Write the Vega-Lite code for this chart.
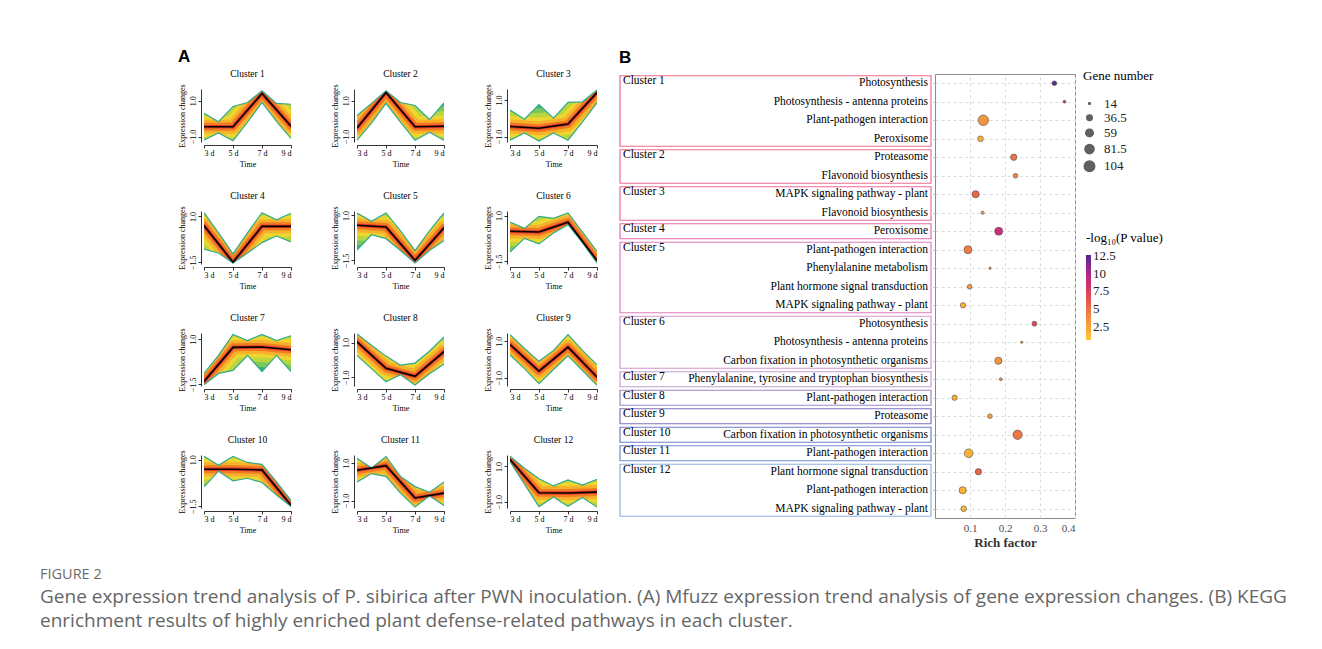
{
"$schema":"https://vega.github.io/schema/vega-lite/v6.json",
"background":"white",
"padding":{"left":40,"top":48,"right":5,"bottom":5},
"config":{
 "font":"Liberation Serif",
 "view":{"stroke":null},
 "title":{"font":"Liberation Serif","fontSize":9.5,"fontWeight":"normal","color":"#000","offset":5},
 "axis":{"labelFont":"Liberation Serif","titleFont":"Liberation Serif","labelFontSize":8,"titleFontSize":8,"titleFontWeight":"normal","labelColor":"#000","titleColor":"#000","domainColor":"#000","tickColor":"#000","tickSize":3,"grid":false,"labelPadding":1,"titlePadding":3,"domainWidth":0.8,"tickWidth":0.8,"offset":3},
 "axisY":{"labelAngle":-90,"labelAlign":"center","labelBaseline":"bottom"},
 "axisX":{"labelAngle":0}
},
"datasets":{
 "trend":[
  {"cl":1,"t":3,"lo":-1.18,"hi":0.30,"c":-0.45},{"cl":1,"t":4,"lo":-0.80,"hi":-0.17},{"cl":1,"t":5,"lo":-1.23,"hi":0.68,"c":-0.45},{"cl":1,"t":6,"lo":-0.20,"hi":0.90},{"cl":1,"t":7,"lo":0.90,"hi":1.55,"c":1.40},{"cl":1,"t":8,"lo":-0.15,"hi":0.85},{"cl":1,"t":9,"lo":-1.10,"hi":0.80,"c":-0.42},
  {"cl":2,"t":3,"lo":-1.20,"hi":0.17,"c":-0.52},{"cl":2,"t":4,"lo":-0.25,"hi":0.85},{"cl":2,"t":5,"lo":0.85,"hi":1.55,"c":1.45},{"cl":2,"t":6,"lo":-0.20,"hi":0.90},{"cl":2,"t":7,"lo":-1.20,"hi":0.73,"c":-0.45},{"cl":2,"t":8,"lo":-0.75,"hi":-0.05},{"cl":2,"t":9,"lo":-1.20,"hi":0.87,"c":-0.42},
  {"cl":3,"t":3,"lo":-1.20,"hi":0.45,"c":-0.45},{"cl":3,"t":4,"lo":-0.80,"hi":-0.05},{"cl":3,"t":5,"lo":-1.25,"hi":0.75,"c":-0.55},{"cl":3,"t":6,"lo":-0.80,"hi":0.00},{"cl":3,"t":7,"lo":-1.20,"hi":0.87,"c":-0.32},{"cl":3,"t":8,"lo":-0.20,"hi":0.90},{"cl":3,"t":9,"lo":0.85,"hi":1.55,"c":1.40},
  {"cl":4,"t":3,"lo":-0.79,"hi":1.21,"c":0.50},{"cl":4,"t":4,"lo":-1.00,"hi":0.10},{"cl":4,"t":5,"lo":-1.54,"hi":-1.05,"c":-1.50},{"cl":4,"t":6,"lo":-1.00,"hi":0.10},{"cl":4,"t":7,"lo":-0.43,"hi":1.21,"c":0.46},{"cl":4,"t":8,"lo":-0.07,"hi":0.82},{"cl":4,"t":9,"lo":-0.39,"hi":1.18,"c":0.46},
  {"cl":5,"t":3,"lo":-0.93,"hi":1.14,"c":0.46},{"cl":5,"t":4,"lo":-0.07,"hi":0.68},{"cl":5,"t":5,"lo":-0.29,"hi":1.14,"c":0.36},{"cl":5,"t":6,"lo":-0.95,"hi":0.15},{"cl":5,"t":7,"lo":-1.64,"hi":-0.96,"c":-1.50},{"cl":5,"t":8,"lo":-0.95,"hi":0.15},{"cl":5,"t":9,"lo":-0.39,"hi":1.14,"c":0.32},
  {"cl":6,"t":3,"lo":-1.00,"hi":0.64,"c":0.14},{"cl":6,"t":4,"lo":-0.25,"hi":0.30},{"cl":6,"t":5,"lo":-0.55,"hi":0.96,"c":0.10},{"cl":6,"t":6,"lo":0.05,"hi":0.85},{"cl":6,"t":7,"lo":0.50,"hi":1.14,"c":0.64},{"cl":6,"t":8,"lo":-0.50,"hi":0.10},{"cl":6,"t":9,"lo":-1.59,"hi":-0.96,"c":-1.46},
  {"cl":7,"t":3,"lo":-1.53,"hi":-0.90,"c":-1.35},{"cl":7,"t":4,"lo":-0.90,"hi":0.10},{"cl":7,"t":5,"lo":-0.73,"hi":1.27,"c":0.55},{"cl":7,"t":6,"lo":0.10,"hi":0.93},{"cl":7,"t":7,"lo":-0.80,"hi":1.27,"c":0.57},{"cl":7,"t":8,"lo":0.10,"hi":0.93},{"cl":7,"t":9,"lo":-0.80,"hi":1.20,"c":0.42},
  {"cl":8,"t":3,"lo":0.26,"hi":1.50,"c":1.04},{"cl":8,"t":4,"lo":-0.50,"hi":0.85},{"cl":8,"t":5,"lo":-1.26,"hi":0.22,"c":-0.48},{"cl":8,"t":6,"lo":-0.85,"hi":-0.30},{"cl":8,"t":7,"lo":-1.44,"hi":-0.18,"c":-0.94},{"cl":8,"t":8,"lo":-0.80,"hi":0.50},{"cl":8,"t":9,"lo":-0.24,"hi":1.33,"c":0.48},
  {"cl":9,"t":3,"lo":0.25,"hi":1.36,"c":0.82},{"cl":9,"t":4,"lo":-0.50,"hi":0.60},{"cl":9,"t":5,"lo":-1.32,"hi":-0.10,"c":-0.64},{"cl":9,"t":6,"lo":-0.55,"hi":0.50},{"cl":9,"t":7,"lo":0.20,"hi":1.36,"c":0.68},{"cl":9,"t":8,"lo":-0.60,"hi":0.50},{"cl":9,"t":9,"lo":-1.41,"hi":-0.29,"c":-0.96},
  {"cl":10,"t":3,"lo":-0.46,"hi":1.18,"c":0.48},{"cl":10,"t":4,"lo":0.38,"hi":0.70},{"cl":10,"t":5,"lo":-0.14,"hi":1.18,"c":0.48},{"cl":10,"t":6,"lo":0.00,"hi":0.85},{"cl":10,"t":7,"lo":-0.23,"hi":0.75,"c":0.45},{"cl":10,"t":8,"lo":-0.90,"hi":-0.20},{"cl":10,"t":9,"lo":-1.52,"hi":-1.20,"c":-1.45},
  {"cl":11,"t":3,"lo":0.00,"hi":1.28,"c":0.63},{"cl":11,"t":4,"lo":0.45,"hi":0.75},{"cl":11,"t":5,"lo":0.30,"hi":1.37,"c":0.88},{"cl":11,"t":6,"lo":-0.60,"hi":0.30},{"cl":11,"t":7,"lo":-1.35,"hi":-0.25,"c":-0.86},{"cl":11,"t":8,"lo":-0.75,"hi":-0.55},{"cl":11,"t":9,"lo":-1.26,"hi":0.00,"c":-0.60},
  {"cl":12,"t":3,"lo":1.27,"hi":1.58,"c":1.40},{"cl":12,"t":4,"lo":0.00,"hi":0.90},{"cl":12,"t":5,"lo":-1.27,"hi":0.31,"c":-0.49},{"cl":12,"t":6,"lo":-0.73,"hi":-0.10},{"cl":12,"t":7,"lo":-1.25,"hi":0.24,"c":-0.50},{"cl":12,"t":8,"lo":-0.75,"hi":-0.05},{"cl":12,"t":9,"lo":-1.30,"hi":0.27,"c":-0.45}
 ],
 "kegg":[
  {"row":1,"cluster":"Cluster 1","pathway":"Photosynthesis","rich":0.341,"genes":30,"logp":12.4},
  {"row":2,"cluster":"Cluster 1","pathway":"Photosynthesis - antenna proteins","rich":0.370,"genes":18,"logp":8.3},
  {"row":3,"cluster":"Cluster 1","pathway":"Plant-pathogen interaction","rich":0.138,"genes":104,"logp":3.5},
  {"row":4,"cluster":"Cluster 1","pathway":"Peroxisome","rich":0.130,"genes":38,"logp":2.0},
  {"row":5,"cluster":"Cluster 2","pathway":"Proteasome","rich":0.225,"genes":45,"logp":5.0},
  {"row":6,"cluster":"Cluster 2","pathway":"Flavonoid biosynthesis","rich":0.230,"genes":30,"logp":4.0},
  {"row":7,"cluster":"Cluster 3","pathway":"MAPK signaling pathway - plant","rich":0.116,"genes":55,"logp":5.5},
  {"row":8,"cluster":"Cluster 3","pathway":"Flavonoid biosynthesis","rich":0.136,"genes":20,"logp":3.0},
  {"row":9,"cluster":"Cluster 4","pathway":"Peroxisome","rich":0.182,"genes":65,"logp":8.8},
  {"row":10,"cluster":"Cluster 5","pathway":"Plant-pathogen interaction","rich":0.094,"genes":65,"logp":4.6},
  {"row":11,"cluster":"Cluster 5","pathway":"Phenylalanine metabolism","rich":0.157,"genes":16,"logp":4.0},
  {"row":12,"cluster":"Cluster 5","pathway":"Plant hormone signal transduction","rich":0.099,"genes":30,"logp":3.0},
  {"row":13,"cluster":"Cluster 5","pathway":"MAPK signaling pathway - plant","rich":0.080,"genes":35,"logp":1.6},
  {"row":14,"cluster":"Cluster 6","pathway":"Photosynthesis","rich":0.284,"genes":32,"logp":7.0},
  {"row":15,"cluster":"Cluster 6","pathway":"Photosynthesis - antenna proteins","rich":0.248,"genes":16,"logp":3.0},
  {"row":16,"cluster":"Cluster 6","pathway":"Carbon fixation in photosynthetic organisms","rich":0.181,"genes":55,"logp":3.6},
  {"row":17,"cluster":"Cluster 7","pathway":"Phenylalanine, tyrosine and tryptophan biosynthesis","rich":0.188,"genes":18,"logp":3.5},
  {"row":18,"cluster":"Cluster 8","pathway":"Plant-pathogen interaction","rich":0.056,"genes":35,"logp":2.0},
  {"row":19,"cluster":"Cluster 9","pathway":"Proteasome","rich":0.157,"genes":30,"logp":2.8},
  {"row":20,"cluster":"Cluster 10","pathway":"Carbon fixation in photosynthetic organisms","rich":0.236,"genes":85,"logp":4.8},
  {"row":21,"cluster":"Cluster 11","pathway":"Plant-pathogen interaction","rich":0.096,"genes":75,"logp":2.0},
  {"row":22,"cluster":"Cluster 12","pathway":"Plant hormone signal transduction","rich":0.124,"genes":45,"logp":5.6},
  {"row":23,"cluster":"Cluster 12","pathway":"Plant-pathogen interaction","rich":0.079,"genes":55,"logp":1.8},
  {"row":24,"cluster":"Cluster 12","pathway":"MAPK signaling pathway - plant","rich":0.082,"genes":38,"logp":1.6}
 ],
 "boxes":[
  {"cluster":"Cluster 1","first":1,"last":4},{"cluster":"Cluster 2","first":5,"last":6},{"cluster":"Cluster 3","first":7,"last":8},{"cluster":"Cluster 4","first":9,"last":9},{"cluster":"Cluster 5","first":10,"last":13},{"cluster":"Cluster 6","first":14,"last":16},{"cluster":"Cluster 7","first":17,"last":17},{"cluster":"Cluster 8","first":18,"last":18},{"cluster":"Cluster 9","first":19,"last":19},{"cluster":"Cluster 10","first":20,"last":20},{"cluster":"Cluster 11","first":21,"last":21},{"cluster":"Cluster 12","first":22,"last":24}
 ]
},
"title":{"text":"FIGURE 2","subtitle":["Gene expression trend analysis of P. sibirica after PWN inoculation. (A) Mfuzz expression trend analysis of gene expression changes. (B) KEGG","enrichment results of highly enriched plant defense-related pathways in each cluster."],"orient":"bottom","anchor":"start","dx":-138,"offset":18,"font":"Open Sans","fontSize":14.5,"fontWeight":"normal","color":"#6b6b6b","subtitleFont":"Open Sans","subtitleFontSize":19,"subtitleColor":"#666666","subtitleLineHeight":23.5,"subtitlePadding":6},
"spacing":21,
"resolve":{"legend":{"color":"independent","size":"independent"}},
"hconcat":[
 {"title":{"text":"A","anchor":"start","font":"Liberation Sans","fontSize":17,"fontWeight":"bold","offset":3,"color":"#000"},
  "spacing":-6,
  "vconcat":[
  {"width":1,"height":1,"data":{"values":[]},"mark":{"type":"point","opacity":0}},
  {"columns":3,
  "spacing":{"row":23,"column":38},
  "concat":[
   {"title":"Cluster 1","width":87,"height":53,"data":{"name":"trend"},"transform":[{"filter":"datum.cl==1"}],
    "encoding":{"x":{"field":"t","type":"quantitative","scale":{"domain":[3,9],"nice":false},"axis":{"values":[3,5,7,9],"labelExpr":"datum.value+' d'","title":"Time"}}},
    "layer":[
     {"mark":{"type":"area","fill":"#2fae88","clip":true},"encoding":{"y":{"field":"lo","type":"quantitative","scale":{"domain":[-1.3,1.65],"nice":false,"zero":false},"axis":{"values":[-1,0,1],"format":".1f","title":"Expression changes"}},"y2":{"field":"hi"}}},
     {"transform":[{"filter":"isValid(datum.c)"}],"mark":{"type":"line","stroke":"#7cc75a","strokeWidth":40,"clip":true,"strokeJoin":"round","strokeCap":"round"},"encoding":{"y":{"field":"c","type":"quantitative"}}},
     {"transform":[{"filter":"isValid(datum.c)"}],"mark":{"type":"line","stroke":"#b9d640","strokeWidth":30,"clip":true,"strokeJoin":"round","strokeCap":"round"},"encoding":{"y":{"field":"c","type":"quantitative"}}},
     {"transform":[{"filter":"isValid(datum.c)"}],"mark":{"type":"line","stroke":"#ecd62f","strokeWidth":21,"clip":true,"strokeJoin":"round","strokeCap":"round"},"encoding":{"y":{"field":"c","type":"quantitative"}}},
     {"transform":[{"filter":"isValid(datum.c)"}],"mark":{"type":"line","stroke":"#f8b12b","strokeWidth":14,"clip":true,"strokeJoin":"round","strokeCap":"round"},"encoding":{"y":{"field":"c","type":"quantitative"}}},
     {"transform":[{"filter":"isValid(datum.c)"}],"mark":{"type":"line","stroke":"#f17c24","strokeWidth":8,"clip":true,"strokeJoin":"round","strokeCap":"round"},"encoding":{"y":{"field":"c","type":"quantitative"}}},
     {"transform":[{"filter":"isValid(datum.c)"}],"mark":{"type":"line","stroke":"#e13a2a","strokeWidth":3.5,"clip":true,"strokeJoin":"round","strokeCap":"round"},"encoding":{"y":{"field":"c","type":"quantitative"}}},
     {"mark":{"type":"area","fill":"#ffffff","clip":true},"encoding":{"y":{"field":"hi","type":"quantitative"},"y2":{"datum":5}}},
     {"mark":{"type":"area","fill":"#ffffff","clip":true},"encoding":{"y":{"field":"lo","type":"quantitative"},"y2":{"datum":-5}}},
     {"mark":{"type":"line","stroke":"#2fa98c","strokeWidth":1.2,"clip":true},"encoding":{"y":{"field":"hi","type":"quantitative"}}},
     {"mark":{"type":"line","stroke":"#2fa98c","strokeWidth":1.2,"clip":true},"encoding":{"y":{"field":"lo","type":"quantitative"}}},
     {"transform":[{"filter":"isValid(datum.c)"}],"mark":{"type":"line","stroke":"#000000","strokeWidth":1.6,"clip":true},"encoding":{"y":{"field":"c","type":"quantitative"}}}
    ]},
   {"title":"Cluster 2","width":87,"height":53,"data":{"name":"trend"},"transform":[{"filter":"datum.cl==2"}],
    "encoding":{"x":{"field":"t","type":"quantitative","scale":{"domain":[3,9],"nice":false},"axis":{"values":[3,5,7,9],"labelExpr":"datum.value+' d'","title":"Time"}}},
    "layer":[
     {"mark":{"type":"area","fill":"#2fae88","clip":true},"encoding":{"y":{"field":"lo","type":"quantitative","scale":{"domain":[-1.3,1.65],"nice":false,"zero":false},"axis":{"values":[-1,0,1],"format":".1f","title":"Expression changes"}},"y2":{"field":"hi"}}},
     {"transform":[{"filter":"isValid(datum.c)"}],"mark":{"type":"line","stroke":"#7cc75a","strokeWidth":40,"clip":true,"strokeJoin":"round","strokeCap":"round"},"encoding":{"y":{"field":"c","type":"quantitative"}}},
     {"transform":[{"filter":"isValid(datum.c)"}],"mark":{"type":"line","stroke":"#b9d640","strokeWidth":30,"clip":true,"strokeJoin":"round","strokeCap":"round"},"encoding":{"y":{"field":"c","type":"quantitative"}}},
     {"transform":[{"filter":"isValid(datum.c)"}],"mark":{"type":"line","stroke":"#ecd62f","strokeWidth":21,"clip":true,"strokeJoin":"round","strokeCap":"round"},"encoding":{"y":{"field":"c","type":"quantitative"}}},
     {"transform":[{"filter":"isValid(datum.c)"}],"mark":{"type":"line","stroke":"#f8b12b","strokeWidth":14,"clip":true,"strokeJoin":"round","strokeCap":"round"},"encoding":{"y":{"field":"c","type":"quantitative"}}},
     {"transform":[{"filter":"isValid(datum.c)"}],"mark":{"type":"line","stroke":"#f17c24","strokeWidth":8,"clip":true,"strokeJoin":"round","strokeCap":"round"},"encoding":{"y":{"field":"c","type":"quantitative"}}},
     {"transform":[{"filter":"isValid(datum.c)"}],"mark":{"type":"line","stroke":"#e13a2a","strokeWidth":3.5,"clip":true,"strokeJoin":"round","strokeCap":"round"},"encoding":{"y":{"field":"c","type":"quantitative"}}},
     {"mark":{"type":"area","fill":"#ffffff","clip":true},"encoding":{"y":{"field":"hi","type":"quantitative"},"y2":{"datum":5}}},
     {"mark":{"type":"area","fill":"#ffffff","clip":true},"encoding":{"y":{"field":"lo","type":"quantitative"},"y2":{"datum":-5}}},
     {"mark":{"type":"line","stroke":"#2fa98c","strokeWidth":1.2,"clip":true},"encoding":{"y":{"field":"hi","type":"quantitative"}}},
     {"mark":{"type":"line","stroke":"#2fa98c","strokeWidth":1.2,"clip":true},"encoding":{"y":{"field":"lo","type":"quantitative"}}},
     {"transform":[{"filter":"isValid(datum.c)"}],"mark":{"type":"line","stroke":"#000000","strokeWidth":1.6,"clip":true},"encoding":{"y":{"field":"c","type":"quantitative"}}}
    ]},
   {"title":"Cluster 3","width":87,"height":53,"data":{"name":"trend"},"transform":[{"filter":"datum.cl==3"}],
    "encoding":{"x":{"field":"t","type":"quantitative","scale":{"domain":[3,9],"nice":false},"axis":{"values":[3,5,7,9],"labelExpr":"datum.value+' d'","title":"Time"}}},
    "layer":[
     {"mark":{"type":"area","fill":"#2fae88","clip":true},"encoding":{"y":{"field":"lo","type":"quantitative","scale":{"domain":[-1.3,1.6],"nice":false,"zero":false},"axis":{"values":[-1,0,1],"format":".1f","title":"Expression changes"}},"y2":{"field":"hi"}}},
     {"transform":[{"filter":"isValid(datum.c)"}],"mark":{"type":"line","stroke":"#7cc75a","strokeWidth":40,"clip":true,"strokeJoin":"round","strokeCap":"round"},"encoding":{"y":{"field":"c","type":"quantitative"}}},
     {"transform":[{"filter":"isValid(datum.c)"}],"mark":{"type":"line","stroke":"#b9d640","strokeWidth":30,"clip":true,"strokeJoin":"round","strokeCap":"round"},"encoding":{"y":{"field":"c","type":"quantitative"}}},
     {"transform":[{"filter":"isValid(datum.c)"}],"mark":{"type":"line","stroke":"#ecd62f","strokeWidth":21,"clip":true,"strokeJoin":"round","strokeCap":"round"},"encoding":{"y":{"field":"c","type":"quantitative"}}},
     {"transform":[{"filter":"isValid(datum.c)"}],"mark":{"type":"line","stroke":"#f8b12b","strokeWidth":14,"clip":true,"strokeJoin":"round","strokeCap":"round"},"encoding":{"y":{"field":"c","type":"quantitative"}}},
     {"transform":[{"filter":"isValid(datum.c)"}],"mark":{"type":"line","stroke":"#f17c24","strokeWidth":8,"clip":true,"strokeJoin":"round","strokeCap":"round"},"encoding":{"y":{"field":"c","type":"quantitative"}}},
     {"transform":[{"filter":"isValid(datum.c)"}],"mark":{"type":"line","stroke":"#e13a2a","strokeWidth":3.5,"clip":true,"strokeJoin":"round","strokeCap":"round"},"encoding":{"y":{"field":"c","type":"quantitative"}}},
     {"mark":{"type":"area","fill":"#ffffff","clip":true},"encoding":{"y":{"field":"hi","type":"quantitative"},"y2":{"datum":5}}},
     {"mark":{"type":"area","fill":"#ffffff","clip":true},"encoding":{"y":{"field":"lo","type":"quantitative"},"y2":{"datum":-5}}},
     {"mark":{"type":"line","stroke":"#2fa98c","strokeWidth":1.2,"clip":true},"encoding":{"y":{"field":"hi","type":"quantitative"}}},
     {"mark":{"type":"line","stroke":"#2fa98c","strokeWidth":1.2,"clip":true},"encoding":{"y":{"field":"lo","type":"quantitative"}}},
     {"transform":[{"filter":"isValid(datum.c)"}],"mark":{"type":"line","stroke":"#000000","strokeWidth":1.6,"clip":true},"encoding":{"y":{"field":"c","type":"quantitative"}}}
    ]},
   {"title":"Cluster 4","width":87,"height":53,"data":{"name":"trend"},"transform":[{"filter":"datum.cl==4"}],
    "encoding":{"x":{"field":"t","type":"quantitative","scale":{"domain":[3,9],"nice":false},"axis":{"values":[3,5,7,9],"labelExpr":"datum.value+' d'","title":"Time"}}},
    "layer":[
     {"mark":{"type":"area","fill":"#2fae88","clip":true},"encoding":{"y":{"field":"lo","type":"quantitative","scale":{"domain":[-1.6,1.3],"nice":false,"zero":false},"axis":{"values":[-1.5,0,1],"format":".1f","title":"Expression changes"}},"y2":{"field":"hi"}}},
     {"transform":[{"filter":"isValid(datum.c)"}],"mark":{"type":"line","stroke":"#7cc75a","strokeWidth":40,"clip":true,"strokeJoin":"round","strokeCap":"round"},"encoding":{"y":{"field":"c","type":"quantitative"}}},
     {"transform":[{"filter":"isValid(datum.c)"}],"mark":{"type":"line","stroke":"#b9d640","strokeWidth":30,"clip":true,"strokeJoin":"round","strokeCap":"round"},"encoding":{"y":{"field":"c","type":"quantitative"}}},
     {"transform":[{"filter":"isValid(datum.c)"}],"mark":{"type":"line","stroke":"#ecd62f","strokeWidth":21,"clip":true,"strokeJoin":"round","strokeCap":"round"},"encoding":{"y":{"field":"c","type":"quantitative"}}},
     {"transform":[{"filter":"isValid(datum.c)"}],"mark":{"type":"line","stroke":"#f8b12b","strokeWidth":14,"clip":true,"strokeJoin":"round","strokeCap":"round"},"encoding":{"y":{"field":"c","type":"quantitative"}}},
     {"transform":[{"filter":"isValid(datum.c)"}],"mark":{"type":"line","stroke":"#f17c24","strokeWidth":8,"clip":true,"strokeJoin":"round","strokeCap":"round"},"encoding":{"y":{"field":"c","type":"quantitative"}}},
     {"transform":[{"filter":"isValid(datum.c)"}],"mark":{"type":"line","stroke":"#e13a2a","strokeWidth":3.5,"clip":true,"strokeJoin":"round","strokeCap":"round"},"encoding":{"y":{"field":"c","type":"quantitative"}}},
     {"mark":{"type":"area","fill":"#ffffff","clip":true},"encoding":{"y":{"field":"hi","type":"quantitative"},"y2":{"datum":5}}},
     {"mark":{"type":"area","fill":"#ffffff","clip":true},"encoding":{"y":{"field":"lo","type":"quantitative"},"y2":{"datum":-5}}},
     {"mark":{"type":"line","stroke":"#2fa98c","strokeWidth":1.2,"clip":true},"encoding":{"y":{"field":"hi","type":"quantitative"}}},
     {"mark":{"type":"line","stroke":"#2fa98c","strokeWidth":1.2,"clip":true},"encoding":{"y":{"field":"lo","type":"quantitative"}}},
     {"transform":[{"filter":"isValid(datum.c)"}],"mark":{"type":"line","stroke":"#000000","strokeWidth":1.6,"clip":true},"encoding":{"y":{"field":"c","type":"quantitative"}}}
    ]},
   {"title":"Cluster 5","width":87,"height":53,"data":{"name":"trend"},"transform":[{"filter":"datum.cl==5"}],
    "encoding":{"x":{"field":"t","type":"quantitative","scale":{"domain":[3,9],"nice":false},"axis":{"values":[3,5,7,9],"labelExpr":"datum.value+' d'","title":"Time"}}},
    "layer":[
     {"mark":{"type":"area","fill":"#2fae88","clip":true},"encoding":{"y":{"field":"lo","type":"quantitative","scale":{"domain":[-1.7,1.25],"nice":false,"zero":false},"axis":{"values":[-1.5,0,1],"format":".1f","title":"Expression changes"}},"y2":{"field":"hi"}}},
     {"transform":[{"filter":"isValid(datum.c)"}],"mark":{"type":"line","stroke":"#7cc75a","strokeWidth":40,"clip":true,"strokeJoin":"round","strokeCap":"round"},"encoding":{"y":{"field":"c","type":"quantitative"}}},
     {"transform":[{"filter":"isValid(datum.c)"}],"mark":{"type":"line","stroke":"#b9d640","strokeWidth":30,"clip":true,"strokeJoin":"round","strokeCap":"round"},"encoding":{"y":{"field":"c","type":"quantitative"}}},
     {"transform":[{"filter":"isValid(datum.c)"}],"mark":{"type":"line","stroke":"#ecd62f","strokeWidth":21,"clip":true,"strokeJoin":"round","strokeCap":"round"},"encoding":{"y":{"field":"c","type":"quantitative"}}},
     {"transform":[{"filter":"isValid(datum.c)"}],"mark":{"type":"line","stroke":"#f8b12b","strokeWidth":14,"clip":true,"strokeJoin":"round","strokeCap":"round"},"encoding":{"y":{"field":"c","type":"quantitative"}}},
     {"transform":[{"filter":"isValid(datum.c)"}],"mark":{"type":"line","stroke":"#f17c24","strokeWidth":8,"clip":true,"strokeJoin":"round","strokeCap":"round"},"encoding":{"y":{"field":"c","type":"quantitative"}}},
     {"transform":[{"filter":"isValid(datum.c)"}],"mark":{"type":"line","stroke":"#e13a2a","strokeWidth":3.5,"clip":true,"strokeJoin":"round","strokeCap":"round"},"encoding":{"y":{"field":"c","type":"quantitative"}}},
     {"mark":{"type":"area","fill":"#ffffff","clip":true},"encoding":{"y":{"field":"hi","type":"quantitative"},"y2":{"datum":5}}},
     {"mark":{"type":"area","fill":"#ffffff","clip":true},"encoding":{"y":{"field":"lo","type":"quantitative"},"y2":{"datum":-5}}},
     {"mark":{"type":"line","stroke":"#2fa98c","strokeWidth":1.2,"clip":true},"encoding":{"y":{"field":"hi","type":"quantitative"}}},
     {"mark":{"type":"line","stroke":"#2fa98c","strokeWidth":1.2,"clip":true},"encoding":{"y":{"field":"lo","type":"quantitative"}}},
     {"transform":[{"filter":"isValid(datum.c)"}],"mark":{"type":"line","stroke":"#000000","strokeWidth":1.6,"clip":true},"encoding":{"y":{"field":"c","type":"quantitative"}}}
    ]},
   {"title":"Cluster 6","width":87,"height":53,"data":{"name":"trend"},"transform":[{"filter":"datum.cl==6"}],
    "encoding":{"x":{"field":"t","type":"quantitative","scale":{"domain":[3,9],"nice":false},"axis":{"values":[3,5,7,9],"labelExpr":"datum.value+' d'","title":"Time"}}},
    "layer":[
     {"mark":{"type":"area","fill":"#2fae88","clip":true},"encoding":{"y":{"field":"lo","type":"quantitative","scale":{"domain":[-1.65,1.25],"nice":false,"zero":false},"axis":{"values":[-1.5,0,1],"format":".1f","title":"Expression changes"}},"y2":{"field":"hi"}}},
     {"transform":[{"filter":"isValid(datum.c)"}],"mark":{"type":"line","stroke":"#7cc75a","strokeWidth":40,"clip":true,"strokeJoin":"round","strokeCap":"round"},"encoding":{"y":{"field":"c","type":"quantitative"}}},
     {"transform":[{"filter":"isValid(datum.c)"}],"mark":{"type":"line","stroke":"#b9d640","strokeWidth":30,"clip":true,"strokeJoin":"round","strokeCap":"round"},"encoding":{"y":{"field":"c","type":"quantitative"}}},
     {"transform":[{"filter":"isValid(datum.c)"}],"mark":{"type":"line","stroke":"#ecd62f","strokeWidth":21,"clip":true,"strokeJoin":"round","strokeCap":"round"},"encoding":{"y":{"field":"c","type":"quantitative"}}},
     {"transform":[{"filter":"isValid(datum.c)"}],"mark":{"type":"line","stroke":"#f8b12b","strokeWidth":14,"clip":true,"strokeJoin":"round","strokeCap":"round"},"encoding":{"y":{"field":"c","type":"quantitative"}}},
     {"transform":[{"filter":"isValid(datum.c)"}],"mark":{"type":"line","stroke":"#f17c24","strokeWidth":8,"clip":true,"strokeJoin":"round","strokeCap":"round"},"encoding":{"y":{"field":"c","type":"quantitative"}}},
     {"transform":[{"filter":"isValid(datum.c)"}],"mark":{"type":"line","stroke":"#e13a2a","strokeWidth":3.5,"clip":true,"strokeJoin":"round","strokeCap":"round"},"encoding":{"y":{"field":"c","type":"quantitative"}}},
     {"mark":{"type":"area","fill":"#ffffff","clip":true},"encoding":{"y":{"field":"hi","type":"quantitative"},"y2":{"datum":5}}},
     {"mark":{"type":"area","fill":"#ffffff","clip":true},"encoding":{"y":{"field":"lo","type":"quantitative"},"y2":{"datum":-5}}},
     {"mark":{"type":"line","stroke":"#2fa98c","strokeWidth":1.2,"clip":true},"encoding":{"y":{"field":"hi","type":"quantitative"}}},
     {"mark":{"type":"line","stroke":"#2fa98c","strokeWidth":1.2,"clip":true},"encoding":{"y":{"field":"lo","type":"quantitative"}}},
     {"transform":[{"filter":"isValid(datum.c)"}],"mark":{"type":"line","stroke":"#000000","strokeWidth":1.6,"clip":true},"encoding":{"y":{"field":"c","type":"quantitative"}}}
    ]},
   {"title":"Cluster 7","width":87,"height":53,"data":{"name":"trend"},"transform":[{"filter":"datum.cl==7"}],
    "encoding":{"x":{"field":"t","type":"quantitative","scale":{"domain":[3,9],"nice":false},"axis":{"values":[3,5,7,9],"labelExpr":"datum.value+' d'","title":"Time"}}},
    "layer":[
     {"mark":{"type":"area","fill":"#2fae88","clip":true},"encoding":{"y":{"field":"lo","type":"quantitative","scale":{"domain":[-1.6,1.35],"nice":false,"zero":false},"axis":{"values":[-1.5,0,1],"format":".1f","title":"Expression changes"}},"y2":{"field":"hi"}}},
     {"transform":[{"filter":"isValid(datum.c)"}],"mark":{"type":"line","stroke":"#7cc75a","strokeWidth":40,"clip":true,"strokeJoin":"round","strokeCap":"round"},"encoding":{"y":{"field":"c","type":"quantitative"}}},
     {"transform":[{"filter":"isValid(datum.c)"}],"mark":{"type":"line","stroke":"#b9d640","strokeWidth":30,"clip":true,"strokeJoin":"round","strokeCap":"round"},"encoding":{"y":{"field":"c","type":"quantitative"}}},
     {"transform":[{"filter":"isValid(datum.c)"}],"mark":{"type":"line","stroke":"#ecd62f","strokeWidth":21,"clip":true,"strokeJoin":"round","strokeCap":"round"},"encoding":{"y":{"field":"c","type":"quantitative"}}},
     {"transform":[{"filter":"isValid(datum.c)"}],"mark":{"type":"line","stroke":"#f8b12b","strokeWidth":14,"clip":true,"strokeJoin":"round","strokeCap":"round"},"encoding":{"y":{"field":"c","type":"quantitative"}}},
     {"transform":[{"filter":"isValid(datum.c)"}],"mark":{"type":"line","stroke":"#f17c24","strokeWidth":8,"clip":true,"strokeJoin":"round","strokeCap":"round"},"encoding":{"y":{"field":"c","type":"quantitative"}}},
     {"transform":[{"filter":"isValid(datum.c)"}],"mark":{"type":"line","stroke":"#e13a2a","strokeWidth":3.5,"clip":true,"strokeJoin":"round","strokeCap":"round"},"encoding":{"y":{"field":"c","type":"quantitative"}}},
     {"mark":{"type":"area","fill":"#ffffff","clip":true},"encoding":{"y":{"field":"hi","type":"quantitative"},"y2":{"datum":5}}},
     {"mark":{"type":"area","fill":"#ffffff","clip":true},"encoding":{"y":{"field":"lo","type":"quantitative"},"y2":{"datum":-5}}},
     {"mark":{"type":"line","stroke":"#2fa98c","strokeWidth":1.2,"clip":true},"encoding":{"y":{"field":"hi","type":"quantitative"}}},
     {"mark":{"type":"line","stroke":"#2fa98c","strokeWidth":1.2,"clip":true},"encoding":{"y":{"field":"lo","type":"quantitative"}}},
     {"transform":[{"filter":"isValid(datum.c)"}],"mark":{"type":"line","stroke":"#000000","strokeWidth":1.6,"clip":true},"encoding":{"y":{"field":"c","type":"quantitative"}}}
    ]},
   {"title":"Cluster 8","width":87,"height":53,"data":{"name":"trend"},"transform":[{"filter":"datum.cl==8"}],
    "encoding":{"x":{"field":"t","type":"quantitative","scale":{"domain":[3,9],"nice":false},"axis":{"values":[3,5,7,9],"labelExpr":"datum.value+' d'","title":"Time"}}},
    "layer":[
     {"mark":{"type":"area","fill":"#2fae88","clip":true},"encoding":{"y":{"field":"lo","type":"quantitative","scale":{"domain":[-1.5,1.55],"nice":false,"zero":false},"axis":{"values":[-1,0,1],"format":".1f","title":"Expression changes"}},"y2":{"field":"hi"}}},
     {"transform":[{"filter":"isValid(datum.c)"}],"mark":{"type":"line","stroke":"#7cc75a","strokeWidth":40,"clip":true,"strokeJoin":"round","strokeCap":"round"},"encoding":{"y":{"field":"c","type":"quantitative"}}},
     {"transform":[{"filter":"isValid(datum.c)"}],"mark":{"type":"line","stroke":"#b9d640","strokeWidth":30,"clip":true,"strokeJoin":"round","strokeCap":"round"},"encoding":{"y":{"field":"c","type":"quantitative"}}},
     {"transform":[{"filter":"isValid(datum.c)"}],"mark":{"type":"line","stroke":"#ecd62f","strokeWidth":21,"clip":true,"strokeJoin":"round","strokeCap":"round"},"encoding":{"y":{"field":"c","type":"quantitative"}}},
     {"transform":[{"filter":"isValid(datum.c)"}],"mark":{"type":"line","stroke":"#f8b12b","strokeWidth":14,"clip":true,"strokeJoin":"round","strokeCap":"round"},"encoding":{"y":{"field":"c","type":"quantitative"}}},
     {"transform":[{"filter":"isValid(datum.c)"}],"mark":{"type":"line","stroke":"#f17c24","strokeWidth":8,"clip":true,"strokeJoin":"round","strokeCap":"round"},"encoding":{"y":{"field":"c","type":"quantitative"}}},
     {"transform":[{"filter":"isValid(datum.c)"}],"mark":{"type":"line","stroke":"#e13a2a","strokeWidth":3.5,"clip":true,"strokeJoin":"round","strokeCap":"round"},"encoding":{"y":{"field":"c","type":"quantitative"}}},
     {"mark":{"type":"area","fill":"#ffffff","clip":true},"encoding":{"y":{"field":"hi","type":"quantitative"},"y2":{"datum":5}}},
     {"mark":{"type":"area","fill":"#ffffff","clip":true},"encoding":{"y":{"field":"lo","type":"quantitative"},"y2":{"datum":-5}}},
     {"mark":{"type":"line","stroke":"#2fa98c","strokeWidth":1.2,"clip":true},"encoding":{"y":{"field":"hi","type":"quantitative"}}},
     {"mark":{"type":"line","stroke":"#2fa98c","strokeWidth":1.2,"clip":true},"encoding":{"y":{"field":"lo","type":"quantitative"}}},
     {"transform":[{"filter":"isValid(datum.c)"}],"mark":{"type":"line","stroke":"#000000","strokeWidth":1.6,"clip":true},"encoding":{"y":{"field":"c","type":"quantitative"}}}
    ]},
   {"title":"Cluster 9","width":87,"height":53,"data":{"name":"trend"},"transform":[{"filter":"datum.cl==9"}],
    "encoding":{"x":{"field":"t","type":"quantitative","scale":{"domain":[3,9],"nice":false},"axis":{"values":[3,5,7,9],"labelExpr":"datum.value+' d'","title":"Time"}}},
    "layer":[
     {"mark":{"type":"area","fill":"#2fae88","clip":true},"encoding":{"y":{"field":"lo","type":"quantitative","scale":{"domain":[-1.45,1.45],"nice":false,"zero":false},"axis":{"values":[-1,0,1],"format":".1f","title":"Expression changes"}},"y2":{"field":"hi"}}},
     {"transform":[{"filter":"isValid(datum.c)"}],"mark":{"type":"line","stroke":"#7cc75a","strokeWidth":40,"clip":true,"strokeJoin":"round","strokeCap":"round"},"encoding":{"y":{"field":"c","type":"quantitative"}}},
     {"transform":[{"filter":"isValid(datum.c)"}],"mark":{"type":"line","stroke":"#b9d640","strokeWidth":30,"clip":true,"strokeJoin":"round","strokeCap":"round"},"encoding":{"y":{"field":"c","type":"quantitative"}}},
     {"transform":[{"filter":"isValid(datum.c)"}],"mark":{"type":"line","stroke":"#ecd62f","strokeWidth":21,"clip":true,"strokeJoin":"round","strokeCap":"round"},"encoding":{"y":{"field":"c","type":"quantitative"}}},
     {"transform":[{"filter":"isValid(datum.c)"}],"mark":{"type":"line","stroke":"#f8b12b","strokeWidth":14,"clip":true,"strokeJoin":"round","strokeCap":"round"},"encoding":{"y":{"field":"c","type":"quantitative"}}},
     {"transform":[{"filter":"isValid(datum.c)"}],"mark":{"type":"line","stroke":"#f17c24","strokeWidth":8,"clip":true,"strokeJoin":"round","strokeCap":"round"},"encoding":{"y":{"field":"c","type":"quantitative"}}},
     {"transform":[{"filter":"isValid(datum.c)"}],"mark":{"type":"line","stroke":"#e13a2a","strokeWidth":3.5,"clip":true,"strokeJoin":"round","strokeCap":"round"},"encoding":{"y":{"field":"c","type":"quantitative"}}},
     {"mark":{"type":"area","fill":"#ffffff","clip":true},"encoding":{"y":{"field":"hi","type":"quantitative"},"y2":{"datum":5}}},
     {"mark":{"type":"area","fill":"#ffffff","clip":true},"encoding":{"y":{"field":"lo","type":"quantitative"},"y2":{"datum":-5}}},
     {"mark":{"type":"line","stroke":"#2fa98c","strokeWidth":1.2,"clip":true},"encoding":{"y":{"field":"hi","type":"quantitative"}}},
     {"mark":{"type":"line","stroke":"#2fa98c","strokeWidth":1.2,"clip":true},"encoding":{"y":{"field":"lo","type":"quantitative"}}},
     {"transform":[{"filter":"isValid(datum.c)"}],"mark":{"type":"line","stroke":"#000000","strokeWidth":1.6,"clip":true},"encoding":{"y":{"field":"c","type":"quantitative"}}}
    ]},
   {"title":"Cluster 10","width":87,"height":53,"data":{"name":"trend"},"transform":[{"filter":"datum.cl==10"}],
    "encoding":{"x":{"field":"t","type":"quantitative","scale":{"domain":[3,9],"nice":false},"axis":{"values":[3,5,7,9],"labelExpr":"datum.value+' d'","title":"Time"}}},
    "layer":[
     {"mark":{"type":"area","fill":"#2fae88","clip":true},"encoding":{"y":{"field":"lo","type":"quantitative","scale":{"domain":[-1.6,1.25],"nice":false,"zero":false},"axis":{"values":[-1.5,0,1],"format":".1f","title":"Expression changes"}},"y2":{"field":"hi"}}},
     {"transform":[{"filter":"isValid(datum.c)"}],"mark":{"type":"line","stroke":"#7cc75a","strokeWidth":40,"clip":true,"strokeJoin":"round","strokeCap":"round"},"encoding":{"y":{"field":"c","type":"quantitative"}}},
     {"transform":[{"filter":"isValid(datum.c)"}],"mark":{"type":"line","stroke":"#b9d640","strokeWidth":30,"clip":true,"strokeJoin":"round","strokeCap":"round"},"encoding":{"y":{"field":"c","type":"quantitative"}}},
     {"transform":[{"filter":"isValid(datum.c)"}],"mark":{"type":"line","stroke":"#ecd62f","strokeWidth":21,"clip":true,"strokeJoin":"round","strokeCap":"round"},"encoding":{"y":{"field":"c","type":"quantitative"}}},
     {"transform":[{"filter":"isValid(datum.c)"}],"mark":{"type":"line","stroke":"#f8b12b","strokeWidth":14,"clip":true,"strokeJoin":"round","strokeCap":"round"},"encoding":{"y":{"field":"c","type":"quantitative"}}},
     {"transform":[{"filter":"isValid(datum.c)"}],"mark":{"type":"line","stroke":"#f17c24","strokeWidth":8,"clip":true,"strokeJoin":"round","strokeCap":"round"},"encoding":{"y":{"field":"c","type":"quantitative"}}},
     {"transform":[{"filter":"isValid(datum.c)"}],"mark":{"type":"line","stroke":"#e13a2a","strokeWidth":3.5,"clip":true,"strokeJoin":"round","strokeCap":"round"},"encoding":{"y":{"field":"c","type":"quantitative"}}},
     {"mark":{"type":"area","fill":"#ffffff","clip":true},"encoding":{"y":{"field":"hi","type":"quantitative"},"y2":{"datum":5}}},
     {"mark":{"type":"area","fill":"#ffffff","clip":true},"encoding":{"y":{"field":"lo","type":"quantitative"},"y2":{"datum":-5}}},
     {"mark":{"type":"line","stroke":"#2fa98c","strokeWidth":1.2,"clip":true},"encoding":{"y":{"field":"hi","type":"quantitative"}}},
     {"mark":{"type":"line","stroke":"#2fa98c","strokeWidth":1.2,"clip":true},"encoding":{"y":{"field":"lo","type":"quantitative"}}},
     {"transform":[{"filter":"isValid(datum.c)"}],"mark":{"type":"line","stroke":"#000000","strokeWidth":1.6,"clip":true},"encoding":{"y":{"field":"c","type":"quantitative"}}}
    ]},
   {"title":"Cluster 11","width":87,"height":53,"data":{"name":"trend"},"transform":[{"filter":"datum.cl==11"}],
    "encoding":{"x":{"field":"t","type":"quantitative","scale":{"domain":[3,9],"nice":false},"axis":{"values":[3,5,7,9],"labelExpr":"datum.value+' d'","title":"Time"}}},
    "layer":[
     {"mark":{"type":"area","fill":"#2fae88","clip":true},"encoding":{"y":{"field":"lo","type":"quantitative","scale":{"domain":[-1.4,1.45],"nice":false,"zero":false},"axis":{"values":[-1,0,1],"format":".1f","title":"Expression changes"}},"y2":{"field":"hi"}}},
     {"transform":[{"filter":"isValid(datum.c)"}],"mark":{"type":"line","stroke":"#7cc75a","strokeWidth":40,"clip":true,"strokeJoin":"round","strokeCap":"round"},"encoding":{"y":{"field":"c","type":"quantitative"}}},
     {"transform":[{"filter":"isValid(datum.c)"}],"mark":{"type":"line","stroke":"#b9d640","strokeWidth":30,"clip":true,"strokeJoin":"round","strokeCap":"round"},"encoding":{"y":{"field":"c","type":"quantitative"}}},
     {"transform":[{"filter":"isValid(datum.c)"}],"mark":{"type":"line","stroke":"#ecd62f","strokeWidth":21,"clip":true,"strokeJoin":"round","strokeCap":"round"},"encoding":{"y":{"field":"c","type":"quantitative"}}},
     {"transform":[{"filter":"isValid(datum.c)"}],"mark":{"type":"line","stroke":"#f8b12b","strokeWidth":14,"clip":true,"strokeJoin":"round","strokeCap":"round"},"encoding":{"y":{"field":"c","type":"quantitative"}}},
     {"transform":[{"filter":"isValid(datum.c)"}],"mark":{"type":"line","stroke":"#f17c24","strokeWidth":8,"clip":true,"strokeJoin":"round","strokeCap":"round"},"encoding":{"y":{"field":"c","type":"quantitative"}}},
     {"transform":[{"filter":"isValid(datum.c)"}],"mark":{"type":"line","stroke":"#e13a2a","strokeWidth":3.5,"clip":true,"strokeJoin":"round","strokeCap":"round"},"encoding":{"y":{"field":"c","type":"quantitative"}}},
     {"mark":{"type":"area","fill":"#ffffff","clip":true},"encoding":{"y":{"field":"hi","type":"quantitative"},"y2":{"datum":5}}},
     {"mark":{"type":"area","fill":"#ffffff","clip":true},"encoding":{"y":{"field":"lo","type":"quantitative"},"y2":{"datum":-5}}},
     {"mark":{"type":"line","stroke":"#2fa98c","strokeWidth":1.2,"clip":true},"encoding":{"y":{"field":"hi","type":"quantitative"}}},
     {"mark":{"type":"line","stroke":"#2fa98c","strokeWidth":1.2,"clip":true},"encoding":{"y":{"field":"lo","type":"quantitative"}}},
     {"transform":[{"filter":"isValid(datum.c)"}],"mark":{"type":"line","stroke":"#000000","strokeWidth":1.6,"clip":true},"encoding":{"y":{"field":"c","type":"quantitative"}}}
    ]},
   {"title":"Cluster 12","width":87,"height":53,"data":{"name":"trend"},"transform":[{"filter":"datum.cl==12"}],
    "encoding":{"x":{"field":"t","type":"quantitative","scale":{"domain":[3,9],"nice":false},"axis":{"values":[3,5,7,9],"labelExpr":"datum.value+' d'","title":"Time"}}},
    "layer":[
     {"mark":{"type":"area","fill":"#2fae88","clip":true},"encoding":{"y":{"field":"lo","type":"quantitative","scale":{"domain":[-1.35,1.65],"nice":false,"zero":false},"axis":{"values":[-1,0,1],"format":".1f","title":"Expression changes"}},"y2":{"field":"hi"}}},
     {"transform":[{"filter":"isValid(datum.c)"}],"mark":{"type":"line","stroke":"#7cc75a","strokeWidth":40,"clip":true,"strokeJoin":"round","strokeCap":"round"},"encoding":{"y":{"field":"c","type":"quantitative"}}},
     {"transform":[{"filter":"isValid(datum.c)"}],"mark":{"type":"line","stroke":"#b9d640","strokeWidth":30,"clip":true,"strokeJoin":"round","strokeCap":"round"},"encoding":{"y":{"field":"c","type":"quantitative"}}},
     {"transform":[{"filter":"isValid(datum.c)"}],"mark":{"type":"line","stroke":"#ecd62f","strokeWidth":21,"clip":true,"strokeJoin":"round","strokeCap":"round"},"encoding":{"y":{"field":"c","type":"quantitative"}}},
     {"transform":[{"filter":"isValid(datum.c)"}],"mark":{"type":"line","stroke":"#f8b12b","strokeWidth":14,"clip":true,"strokeJoin":"round","strokeCap":"round"},"encoding":{"y":{"field":"c","type":"quantitative"}}},
     {"transform":[{"filter":"isValid(datum.c)"}],"mark":{"type":"line","stroke":"#f17c24","strokeWidth":8,"clip":true,"strokeJoin":"round","strokeCap":"round"},"encoding":{"y":{"field":"c","type":"quantitative"}}},
     {"transform":[{"filter":"isValid(datum.c)"}],"mark":{"type":"line","stroke":"#e13a2a","strokeWidth":3.5,"clip":true,"strokeJoin":"round","strokeCap":"round"},"encoding":{"y":{"field":"c","type":"quantitative"}}},
     {"mark":{"type":"area","fill":"#ffffff","clip":true},"encoding":{"y":{"field":"hi","type":"quantitative"},"y2":{"datum":5}}},
     {"mark":{"type":"area","fill":"#ffffff","clip":true},"encoding":{"y":{"field":"lo","type":"quantitative"},"y2":{"datum":-5}}},
     {"mark":{"type":"line","stroke":"#2fa98c","strokeWidth":1.2,"clip":true},"encoding":{"y":{"field":"hi","type":"quantitative"}}},
     {"mark":{"type":"line","stroke":"#2fa98c","strokeWidth":1.2,"clip":true},"encoding":{"y":{"field":"lo","type":"quantitative"}}},
     {"transform":[{"filter":"isValid(datum.c)"}],"mark":{"type":"line","stroke":"#000000","strokeWidth":1.6,"clip":true},"encoding":{"y":{"field":"c","type":"quantitative"}}}
    ]}
  ]}
  ]
 },
 {"title":{"text":"B","anchor":"start","font":"Liberation Sans","fontSize":17,"fontWeight":"bold","offset":3,"color":"#000"},
  "spacing":0,
  "resolve":{"legend":{"color":"independent","size":"independent"}},
  "hconcat":[
   {"width":313,"height":444,"view":{"stroke":null},
    "layer":[
     {"data":{"name":"boxes"},"mark":{"type":"rect","fillOpacity":0,"strokeWidth":1.2,"yOffset":-7.5,"y2Offset":7.5,"xOffset":1,"x2Offset":-1},
      "encoding":{"x":{"datum":0,"type":"quantitative","scale":{"domain":[0,1],"nice":false},"axis":null},"x2":{"datum":1},
       "y":{"field":"first","type":"quantitative","scale":{"domain":[0.5,24.5],"reverse":true,"nice":false,"zero":false},"axis":null},"y2":{"field":"last"},
       "stroke":{"field":"cluster","type":"nominal","scale":{"domain":["Cluster 1","Cluster 2","Cluster 3","Cluster 4","Cluster 5","Cluster 6","Cluster 7","Cluster 8","Cluster 9","Cluster 10","Cluster 11","Cluster 12"],"range":["#ee6a82","#ef6e8f","#eb6a9c","#e66caa","#e07cc0","#d795d2","#c49fd6","#9f86cb","#7d72c1","#6e7dc6","#6f8dcf","#8db3e3"]},"legend":null}}},
     {"data":{"name":"boxes"},"mark":{"type":"text","align":"left","baseline":"middle","dx":4,"dy":-2,"fontSize":11.5,"font":"Liberation Serif","color":"#000"},
      "encoding":{"x":{"datum":0,"type":"quantitative"},"y":{"field":"first","type":"quantitative"},"text":{"field":"cluster"}}},
     {"data":{"name":"kegg"},"mark":{"type":"text","align":"right","baseline":"middle","dx":-4,"fontSize":11.5,"font":"Liberation Serif","color":"#000"},
      "encoding":{"x":{"datum":1,"type":"quantitative"},"y":{"field":"row","type":"quantitative"},"text":{"field":"pathway"}}}
    ]},
   {"width":140,"height":444,"view":{"stroke":"#8a8a8a","strokeWidth":1},
    "data":{"name":"kegg"},
    "mark":{"type":"circle","opacity":1,"stroke":"#4a4a4a","strokeWidth":0.6},
    "encoding":{
     "x":{"field":"rich","type":"quantitative","scale":{"domain":[0,0.4],"nice":false,"zero":false},"axis":{"values":[0.1,0.2,0.3,0.4],"format":".1f","title":"Rich factor","titleFontWeight":"bold","titleFontSize":13,"titleColor":"#333","labelFontSize":11,"labelColor":"#4d4d4d","grid":true,"gridDash":[3,3],"gridColor":"#dadada","domain":false,"ticks":false,"offset":0,"labelPadding":4,"titlePadding":3}},
     "y":{"field":"row","type":"quantitative","scale":{"domain":[0.5,24.5],"reverse":true,"nice":false,"zero":false},"axis":{"values":[1,2,3,4,5,6,7,8,9,10,11,12,13,14,15,16,17,18,19,20,21,22,23,24],"labels":false,"title":null,"grid":true,"gridDash":[3,3],"gridColor":"#dadada","domain":false,"ticks":true,"tickSize":2,"tickColor":"#9a9a9a","offset":0}},
     "size":{"field":"genes","type":"quantitative","scale":{"domain":[14,104],"range":[3,110],"zero":false},"legend":{"title":"Gene number","values":[14,36.5,59,81.5,104],"labelExpr":"format(datum.value, '.3~g')","orient":"none","legendX":148,"legendY":-4,"titleFont":"Liberation Serif","titleFontSize":13,"titleFontWeight":"normal","titleColor":"#000","titlePadding":14,"labelFont":"Liberation Serif","labelFontSize":13,"labelColor":"#222","symbolFillColor":"#606060","symbolStrokeColor":"#606060","symbolType":"circle","rowPadding":0.2,"labelOffset":8}},
     "color":{"field":"logp","type":"quantitative","scale":{"domain":[0.7,3.7,6.6,9.6,12.6],"range":["#fcc82e","#f39040","#e0504f","#b82d84","#4b2991"]},"legend":{"title":"-log₁₀(P value)","values":[2.5,5,7.5,10,12.5],"labelExpr":"format(datum.value, '.3~g')","orient":"none","legendX":151,"legendY":158,"direction":"vertical","gradientLength":85,"gradientThickness":5,"titleFont":"Liberation Serif","titleFontSize":13,"titleFontWeight":"normal","titleColor":"#000","titlePadding":10,"labelFont":"Liberation Serif","labelFontSize":13,"labelColor":"#222","labelOffset":2}}
    }}
  ]}
]
}
